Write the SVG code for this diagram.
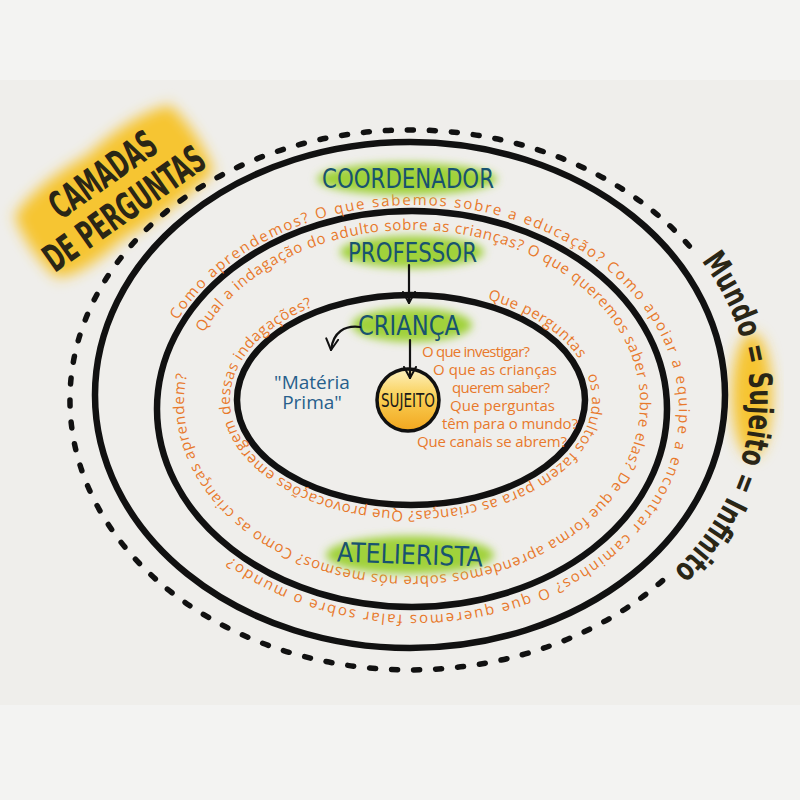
<svg xmlns="http://www.w3.org/2000/svg" width="800" height="800" viewBox="0 0 800 800">
<style>
.ring{fill:none;stroke:#111;stroke-width:6.5}
.dash{fill:none;stroke:#111;stroke-width:5.5;stroke-dasharray:6 16;stroke-linecap:round}
.q{font-family:"Open Sans","DejaVu Sans",sans-serif;fill:#e8792b;font-size:15px}
.lbl{font-family:"DejaVu Sans Condensed","Liberation Sans Narrow","Liberation Sans",sans-serif;fill:#18536f;font-size:27px}
.title{font-family:"DejaVu Sans Condensed","Liberation Sans Narrow","Liberation Sans",sans-serif;fill:#2a2616;font-weight:bold}
.arrow{fill:none;stroke:#111;stroke-width:2.2;stroke-linecap:round}
.green{fill:#a0d23a;filter:url(#blur)}
.yellow{fill:#f6c532;filter:url(#blur2)}
.blue{font-family:"Open Sans","DejaVu Sans",sans-serif;fill:#275f8c;font-size:19px}
</style>
<defs>
<filter id="blur" x="-30%" y="-60%" width="160%" height="220%"><feGaussianBlur stdDeviation="4"/></filter>
<filter id="blur2" x="-30%" y="-30%" width="160%" height="160%"><feGaussianBlur stdDeviation="7"/></filter>
<marker id="ah" viewBox="0 0 14 14" refX="12" refY="7" markerWidth="14" markerHeight="14" markerUnits="userSpaceOnUse" orient="auto"><path d="M1 1 L12 7 L1 13" fill="none" stroke="#111" stroke-width="2" stroke-linecap="round" stroke-linejoin="round"/></marker>
<linearGradient id="sun" x1="0" y1="0" x2="0" y2="1"><stop offset="0" stop-color="#fdf1c0"/><stop offset="0.45" stop-color="#f9cf55"/><stop offset="1" stop-color="#f2a61e"/></linearGradient>
<path id="pC" d="M 177.7 320.1 A 264 205 0 1 1 652.3 499.9 A 264 205 0 1 1 177.7 320.1"/>
<path id="pB" d="M 203.7 332.6 A 228 173 0 1 1 620.3 473.4 A 228 173 0 1 1 203.7 332.6"/>
<path id="pA" d="M 487.5 299.4 A 181 111 0 1 1 334.5 500.6 A 181 111 0 1 1 487.5 299.4"/>
<path id="pM" d="M 701.4 260.9 A 340 270 0 0 1 650.4 590.9"/>
</defs>

<rect width="800" height="800" fill="#f3f3f2"/>
<rect x="0" y="80" width="800" height="625" fill="#efeeeb"/>

<g id="title">
  <g transform="translate(113,191) rotate(-35)">
    <path class="yellow" d="M -95 -36 Q -60 -50 0 -44 Q 60 -52 96 -38 Q 104 0 94 42 Q 40 50 -20 45 Q -78 52 -96 38 Q -104 0 -95 -36 Z"/>
    <text class="title" x="1" y="-6" font-size="38" text-anchor="middle" textLength="122" lengthAdjust="spacingAndGlyphs">CAMADAS</text>
    <text class="title" x="-1" y="34" font-size="38" text-anchor="middle" textLength="188" lengthAdjust="spacingAndGlyphs">DE PERGUNTAS</text>
  </g>
</g>

<g id="mundo">
  <path class="dash" d="M 662.6 580.6 A 340 270 0 1 1 691.9 249.0"/>
  <ellipse class="yellow" cx="752" cy="395" rx="20" ry="62"/>
  <text class="title" font-size="32"><textPath href="#pM" textLength="342" lengthAdjust="spacingAndGlyphs">Mundo = Sujeito = Infinito</textPath></text>
</g>

<g id="rings">
  <ellipse class="ring" cx="410" cy="395" rx="315" ry="253"/>
  <ellipse class="ring" cx="412" cy="409" rx="255" ry="198"/>
  <ellipse class="ring" cx="411" cy="400" rx="174" ry="105"/>
</g>

<g id="ring-texts">
  <text class="q" font-size="16"><textPath href="#pC" textLength="1210" lengthAdjust="spacing">Como aprendemos? O que sabemos sobre a educação? Como apoiar a equipe a encontrar caminhos? O que queremos falar sobre o mundo?</textPath></text>
  <text class="q"><textPath href="#pB" textLength="1220" lengthAdjust="spacing">Qual a indagação do adulto sobre as crianças? O que queremos saber sobre elas? De que forma aprendemos sobre nós mesmos? Como as crianças aprendem?</textPath></text>
  <text class="q" style="white-space:pre"><textPath href="#pA" textLength="752" lengthAdjust="spacing">Que perguntas    os adultos fazem para as crianças? Que provocações emergem dessas indagações?</textPath></text>
</g>

<g id="coordenador">
  <ellipse class="green" cx="407" cy="179" rx="90" ry="16"/>
  <text class="lbl" x="322" y="188" textLength="172" lengthAdjust="spacingAndGlyphs">COORDENADOR</text>
</g>
<g id="professor">
  <ellipse class="green" cx="412" cy="252" rx="72" ry="16"/>
  <text class="lbl" x="348" y="262" textLength="129" lengthAdjust="spacingAndGlyphs">PROFESSOR</text>
</g>
<g id="crianca">
  <ellipse class="green" cx="412" cy="325" rx="60" ry="17"/>
  <text class="lbl" x="358" y="335" textLength="102" lengthAdjust="spacingAndGlyphs">CRIANÇA</text>
</g>
<g id="atelierista">
  <ellipse class="green" cx="410" cy="555" rx="84" ry="19"/>
  <text class="lbl" x="337" y="564" textLength="146" lengthAdjust="spacingAndGlyphs" transform="rotate(2 410 553)">ATELIERISTA</text>
</g>

<g id="sujeito">
  <circle cx="408" cy="400" r="31" fill="url(#sun)" stroke="#111" stroke-width="3.5"/>
  <text x="408" y="407" text-anchor="middle" font-family="DejaVu Sans Condensed, Liberation Sans Narrow, Liberation Sans, sans-serif" font-size="19" fill="#1a1a1a" textLength="54" lengthAdjust="spacingAndGlyphs">SUJEITO</text>
</g>

<g id="materia-prima">
  <text class="blue" x="312" y="389" text-anchor="middle">"Matéria</text>
  <text class="blue" x="312" y="409" text-anchor="middle">Prima"</text>
</g>

<g id="perguntas-crianca" class="q">
  <text x="422" y="357" textLength="108">O que investigar?</text>
  <text x="433" y="375" textLength="124">O que as crianças</text>
  <text x="452" y="393" textLength="98">querem saber?</text>
  <text x="450" y="411" textLength="105">Que perguntas</text>
  <text x="442" y="429" textLength="136">têm para o mundo?</text>
  <text x="417" y="447" textLength="150">Que canais se abrem?</text>
</g>

<g id="connectors">
  <path class="arrow" d="M 409 265 L 409 303" marker-end="url(#ah)"/>
  <path class="arrow" d="M 410 340 L 410 378" marker-end="url(#ah)"/>
  <path class="arrow" d="M 360 327 C 345 325 333 332 331 350" marker-end="url(#ah)"/>
</g>
</svg>
